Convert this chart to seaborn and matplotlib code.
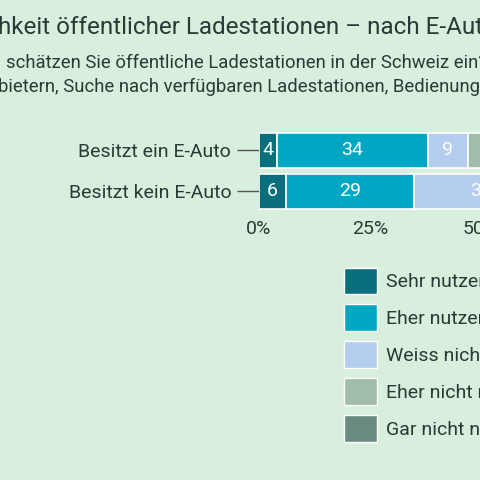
import matplotlib
matplotlib.use("Agg")
import matplotlib.pyplot as plt
import seaborn as sns
import pandas as pd
import numpy as np
from matplotlib.patches import Patch

groups = ["Besitzt ein E-Auto", "Besitzt kein E-Auto"]
categories = ["Sehr nutzerfreundlich", "Eher nutzerfreundlich", "Weiss nicht/keine Antwort",
              "Eher nicht nutzerfreundlich", "Gar nicht nutzerfreundlich"]
values = {
    "Sehr nutzerfreundlich": [4, 6],
    "Eher nutzerfreundlich": [34, 29],
    "Weiss nicht/keine Antwort": [9, 30],
    "Eher nicht nutzerfreundlich": [30, 20],
    "Gar nicht nutzerfreundlich": [23, 15],
}
colors = ["#0a6f7c", "#00a7c2", "#b5cdee", "#a0bdaa", "#6a8b80"]
bg = "#d8efde"
txt = "#2a3a35"

sns.set_theme(style="white")
plt.rcParams['font.family'] = ['Roboto', 'DejaVu Sans']

fig = plt.figure(figsize=(4.8, 4.8), dpi=100, facecolor=bg)
ax = fig.add_axes([259/480, 1-212/480, 444/480, 82/480])
ax.set_facecolor(bg)

df = pd.DataFrame(values, index=groups)
left = np.zeros(len(groups))
for cat, col in zip(categories, colors):
    v = df[cat].values
    bars = ax.barh(groups, v, left=left, color=col, height=0.84, edgecolor="white", linewidth=1.2)
    for b, val in zip(bars, v):
        ax.text(b.get_x() + b.get_width()/2, b.get_y() + b.get_height()/2, str(val),
                ha="center", va="center", color="white", fontsize=14)
    left += v
ax.set_xlim(0, 100)
ax.set_ylim(1.5, -0.5)
ax.set_xticks([0, 25, 50, 75, 100])
ax.set_xticklabels(["0%", "25%", "50%", "75%", "100%"], fontsize=14, color=txt)
ax.tick_params(axis="x", length=0, pad=6)
ax.tick_params(axis="y", length=16, width=1, color="#555", labelsize=14, labelcolor=txt, pad=4, left=True)
for s in ax.spines.values():
    s.set_visible(False)

fig.text(-0.005, 1-28/480, "hkeit öffentlicher Ladestationen – nach E-Auto-Besitz",
         fontsize=17.5, color=txt, va="center", ha="left")
fig.text(0.012, 1-63/480, "schätzen Sie öffentliche Ladestationen in der Schweiz ein?",
         fontsize=13.3, color=txt, va="center", ha="left")
fig.text(-0.005, 1-87/480, "bietern, Suche nach verfügbaren Ladestationen, Bedienung",
         fontsize=13.3, color=txt, va="center", ha="left")

handles = [Patch(facecolor=c, edgecolor="white", linewidth=1) for c in colors]
leg = fig.legend(handles, categories, loc="upper left", bbox_to_anchor=(326/480, 1-250/480),
                 frameon=False, fontsize=14, handlelength=1.7, handleheight=1.7,
                 labelspacing=0.55, handletextpad=0.5, labelcolor=txt)

fig.savefig("out.png", dpi=100, facecolor=bg)
